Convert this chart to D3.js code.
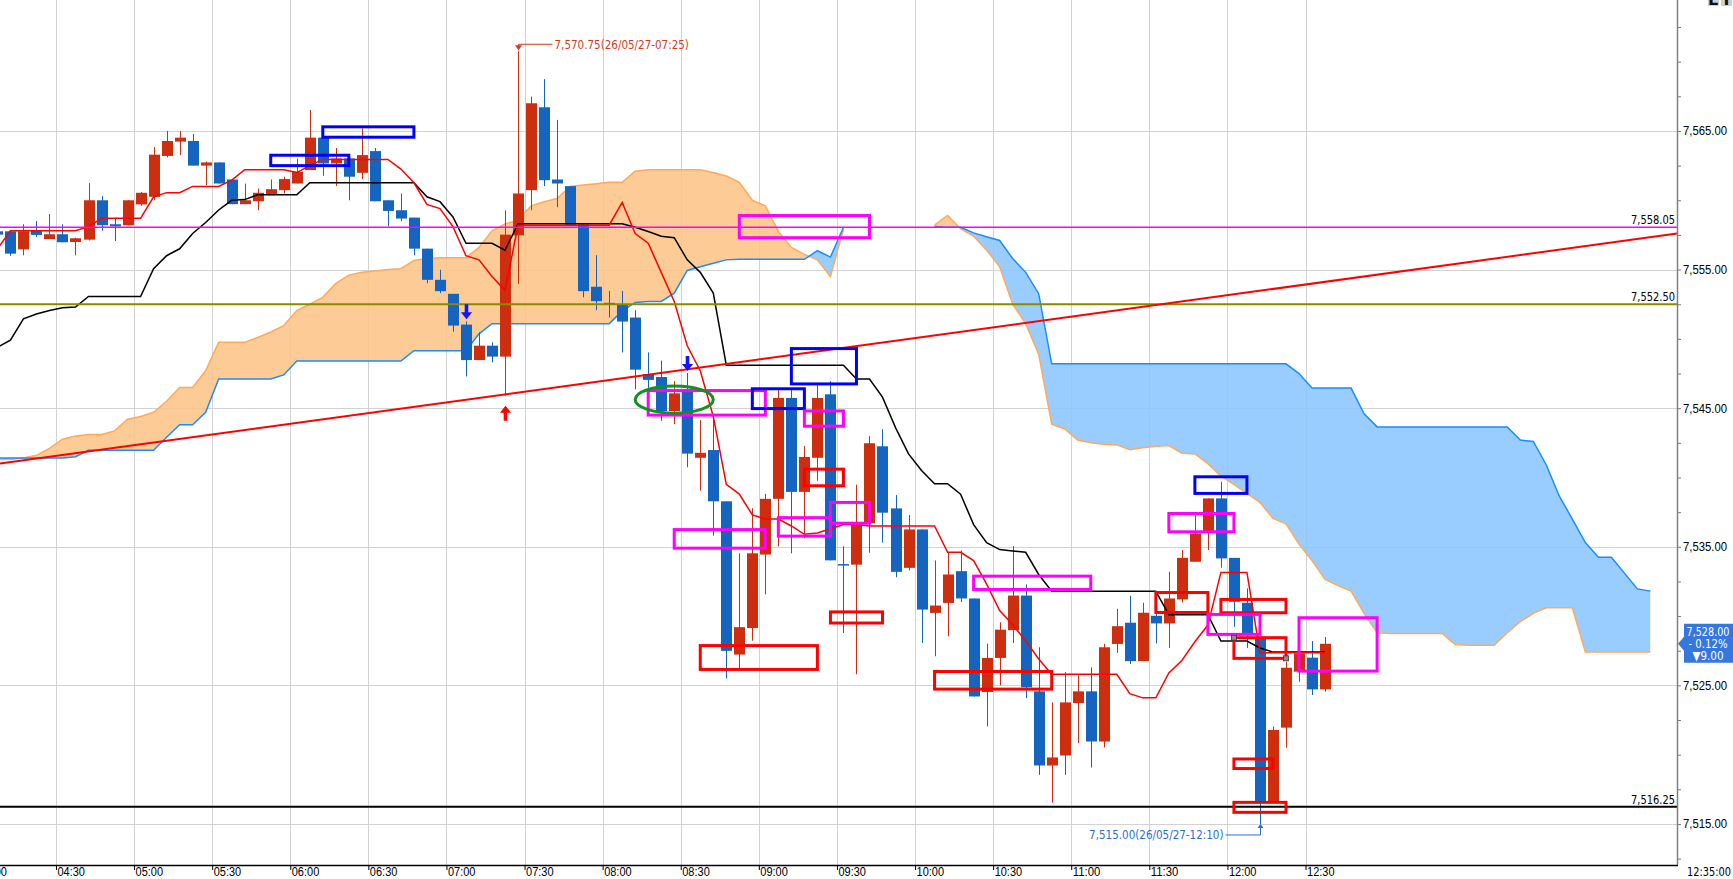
<!DOCTYPE html>
<html>
<head>
<meta charset="utf-8">
<script src="https://cdn.jsdelivr.net/npm/d3@7/dist/d3.min.js"></script>
<style>
  body { margin: 0; background: #fff; }
  svg { display: block; font-family: "DejaVu Sans", "Liberation Sans", sans-serif; }
</style>
</head>
<body>
<div id="chart"></div>
<script>
// 5-minute candles, 2026-05-27, first bar 04:05
const day = "2026-05-27";
const candleStart = "04:05";

const opens = [
  7557.76, 7557.76, 7556.46, 7557.8, 7557.2, 7557.55, 7556.99, 7557.16, 7560.0, 7558.27, 7558.2, 7559.7,
  7560.25, 7563.2, 7564.23, 7564.28, 7562.5, 7562.73, 7561.5, 7559.72, 7559.93, 7560.37, 7560.73, 7561.21,
  7562.18, 7564.52, 7562.66, 7563.02, 7561.98, 7563.55, 7560.0, 7559.28, 7558.75, 7556.51, 7554.26, 7553.25,
  7551.03, 7548.47, 7549.51, 7548.72, 7557.47, 7560.73, 7566.71, 7561.5, 7561.02, 7558.27, 7553.76, 7552.6,
  7552.49, 7551.54, 7547.46, 7547.25, 7544.79, 7546.36, 7541.42, 7541.98, 7538.28, 7527.22, 7529.14, 7534.44,
  7538.46, 7545.74, 7538.96, 7541.42, 7546.0, 7533.75, 7533.71, 7536.7, 7542.25, 7537.77, 7533.48, 7536.25,
  7530.23, 7530.95, 7533.24, 7531.27, 7524.52, 7526.98, 7528.98, 7531.48, 7524.57, 7519.22, 7519.94, 7523.72,
  7524.57, 7520.95, 7527.99, 7529.52, 7526.75, 7530.02, 7529.47, 7531.2, 7533.92, 7536.08, 7538.49, 7534.2,
  7530.96, 7528.39, 7516.6, 7521.95, 7525.99, 7527.0, 7524.71
];
const highs = [
  7557.9, 7557.8, 7558.27, 7558.5, 7559.0, 7558.27, 7557.3, 7561.24, 7560.3, 7558.75, 7560.0, 7560.6,
  7563.84, 7565.0, 7565.0, 7564.78, 7562.8, 7562.73, 7561.5, 7561.2, 7560.85, 7561.5, 7561.7, 7563.0,
  7566.52, 7564.52, 7563.77, 7563.02, 7565.19, 7563.77, 7560.0, 7560.49, 7558.75, 7556.51, 7554.99, 7553.25,
  7551.27, 7550.48, 7549.75, 7559.28, 7570.75, 7567.48, 7568.74, 7565.8, 7561.02, 7558.27, 7556.04, 7553.46,
  7553.46, 7552.07, 7549.02, 7548.43, 7546.95, 7547.54, 7544.14, 7544.59, 7538.28, 7534.53, 7537.78, 7538.82,
  7546.36, 7546.36, 7542.28, 7546.66, 7546.95, 7535.04, 7539.48, 7542.98, 7543.48, 7538.73, 7537.29, 7536.25,
  7534.01, 7534.57, 7534.73, 7531.27, 7528.01, 7529.55, 7535.05, 7532.28, 7527.75, 7523.77, 7525.96, 7525.72,
  7526.3, 7527.99, 7530.52, 7531.47, 7530.96, 7530.8, 7533.2, 7534.76, 7537.28, 7538.49, 7539.69, 7534.2,
  7532.0, 7528.39, 7522.02, 7526.7, 7527.3, 7528.2, 7528.49
];
const lows = [
  7557.4, 7556.0, 7556.03, 7557.35, 7557.2, 7556.97, 7556.03, 7557.1, 7557.8, 7557.06, 7558.2, 7559.6,
  7560.0, 7563.1, 7563.26, 7562.5, 7561.1, 7561.21, 7559.72, 7559.72, 7559.28, 7560.37, 7560.5, 7561.21,
  7562.18, 7561.77, 7561.04, 7560.0, 7561.53, 7559.93, 7558.12, 7558.5, 7556.03, 7554.02, 7553.3, 7550.52,
  7547.29, 7548.47, 7548.31, 7545.9, 7553.97, 7559.28, 7561.02, 7559.5, 7558.2, 7553.0, 7552.07, 7551.54,
  7549.02, 7546.36, 7546.21, 7544.08, 7543.85, 7540.74, 7539.05, 7535.8, 7525.5, 7526.18, 7528.22, 7531.57,
  7535.03, 7534.53, 7535.62, 7539.76, 7534.02, 7528.78, 7525.8, 7534.57, 7535.3, 7532.8, 7533.29, 7528.06,
  7527.1, 7528.54, 7531.02, 7524.2, 7522.04, 7525.0, 7528.06, 7524.08, 7518.54, 7516.54, 7518.54, 7520.83,
  7519.07, 7520.52, 7527.34, 7526.54, 7526.75, 7528.03, 7527.7, 7530.99, 7533.92, 7534.76, 7533.49, 7529.23,
  7527.7, 7515.0, 7516.6, 7520.5, 7525.26, 7524.3, 7524.54
];
const closes = [
  7557.52, 7556.15, 7557.76, 7557.5, 7557.55, 7556.97, 7557.26, 7560.0, 7558.2, 7558.12, 7560.0, 7560.54,
  7563.29, 7564.28, 7564.52, 7562.5, 7562.73, 7561.21, 7559.72, 7560.0, 7560.54, 7560.8, 7561.53, 7562.06,
  7564.52, 7562.66, 7563.02, 7561.7, 7563.26, 7559.93, 7559.23, 7558.68, 7556.51, 7554.26, 7553.44, 7550.96,
  7548.47, 7549.51, 7548.72, 7557.52, 7560.49, 7567.0, 7561.45, 7561.21, 7558.2, 7553.44, 7552.72, 7552.5,
  7551.25, 7547.78, 7547.04, 7544.79, 7546.07, 7541.72, 7541.78, 7538.28, 7527.49, 7529.2, 7534.53, 7538.46,
  7545.74, 7538.96, 7541.48, 7545.74, 7534.02, 7533.7, 7536.6, 7542.47, 7537.46, 7533.19, 7536.25, 7530.47,
  7530.76, 7533.0, 7531.27, 7524.2, 7526.98, 7529.02, 7531.48, 7524.86, 7519.22, 7519.8, 7523.77, 7524.57,
  7520.95, 7527.75, 7529.27, 7526.75, 7530.24, 7529.47, 7531.27, 7534.2, 7535.96, 7538.49, 7534.16, 7531.03,
  7528.75, 7516.6, 7521.78, 7526.27, 7527.3, 7524.71, 7528.0
];

// conversion line (red) and base line (black), one value per candle
const tenkan = [
  7556.5, 7557.8, 7557.8, 7557.8, 7557.8, 7557.8, 7557.8, 7558.1, 7558.7, 7558.7, 7558.7, 7558.7,
  7560.25, 7560.55, 7560.55, 7561.0, 7561.0, 7561.0, 7561.45, 7562.2, 7562.2, 7562.2, 7562.2, 7562.0,
  7562.5, 7562.95, 7562.95, 7562.95, 7562.95, 7562.95, 7562.95, 7562.25, 7561.26, 7559.7, 7559.4, 7558.1,
  7556.0, 7555.7, 7554.5, 7553.5, 7558.2, 7558.2, 7558.2, 7558.2, 7558.2, 7558.2, 7558.2, 7558.2,
  7559.85, 7557.6, 7556.9, 7554.8, 7552.7, 7549.5, 7547.7, 7544.4, 7539.5, 7538.8, 7537.3, 7537.0,
  7537.0, 7536.5, 7535.9, 7536.0, 7536.3, 7536.6, 7536.6, 7536.5, 7536.5, 7536.5, 7536.5, 7536.5,
  7536.5, 7534.6, 7534.6, 7534.0, 7532.3, 7530.4, 7529.4, 7528.2, 7526.9, 7525.8, 7525.8, 7525.8,
  7525.8, 7525.8, 7525.8, 7524.4, 7524.1, 7524.1, 7525.9, 7526.8, 7528.15, 7529.35, 7533.15, 7533.15,
  7533.15, 7527.35, 7527.35, 7527.35, 7527.35, 7527.35, 7527.35
];
const kijun = [
  7549.4, 7549.9, 7551.44, 7551.8, 7552.04, 7552.24, 7552.3, 7553.06, 7553.06, 7553.06, 7553.06, 7553.06,
  7555.06, 7556.0, 7556.5, 7557.6, 7558.4, 7559.3, 7560.0, 7560.05, 7560.4, 7560.4, 7560.4, 7560.4,
  7561.26, 7561.26, 7561.26, 7561.26, 7561.26, 7561.26, 7561.26, 7561.26, 7561.26, 7560.25, 7559.9, 7558.8,
  7556.9, 7556.9, 7556.9, 7556.4, 7558.3, 7558.3, 7558.3, 7558.3, 7558.3, 7558.3, 7558.3, 7558.3,
  7558.3, 7558.05, 7557.75, 7557.4, 7557.3, 7555.7, 7554.8, 7553.3, 7548.1, 7548.1, 7548.1, 7548.1,
  7548.1, 7548.1, 7548.1, 7548.1, 7548.1, 7548.1, 7547.1, 7547.1, 7545.8, 7543.6, 7541.7, 7540.5,
  7539.55, 7539.55, 7538.8, 7536.6, 7535.3, 7534.8, 7534.7, 7534.6, 7533.0, 7531.8, 7531.8, 7531.8,
  7531.8, 7531.8, 7531.8, 7531.8, 7531.8, 7531.8, 7530.1, 7530.1, 7530.1, 7530.1, 7528.2, 7528.2,
  7528.2, 7527.7, 7527.4, 7527.4, 7527.4, 7527.4, 7527.4
];

// leading spans (cloud), 04:05 .. 14:40, gap where nothing is drawn
const cloudStart = "04:05";
const spanA = [
  7541.4, 7541.4, 7541.4, 7541.4, 7541.4, 7541.4, 7541.5, 7541.96, 7541.96, 7541.96, 7541.96, 7541.96,
  7541.96, 7542.9, 7543.8, 7543.8, 7544.7, 7547.1, 7547.1, 7547.1, 7547.1, 7547.1, 7547.4, 7548.4,
  7548.4, 7548.4, 7548.4, 7548.4, 7548.4, 7548.4, 7548.4, 7548.4, 7549.15, 7549.15, 7549.15, 7549.15,
  7549.15, 7550.36, 7551.1, 7551.1, 7551.1, 7551.1, 7551.1, 7551.1, 7551.1, 7551.1, 7551.1, 7551.1,
  7552.0, 7552.63, 7552.7, 7552.7, 7553.3, 7554.94, 7555.2, 7555.45, 7555.7, 7555.74, 7555.74, 7555.74,
  7555.74, 7555.74, 7555.74, 7556.36, 7555.9, 7558.05, null, null, null, null, null, null,
  7558.1, 7558.05, 7558.05, 7557.65, 7557.37, 7557.1, 7555.8, 7554.8, 7553.26, 7548.2, 7548.2, 7548.2,
  7548.2, 7548.2, 7548.2, 7548.2, 7548.2, 7548.2, 7548.2, 7548.2, 7548.2, 7548.2, 7548.2, 7548.2,
  7548.2, 7548.2, 7548.2, 7548.2, 7547.5, 7546.45, 7546.45, 7546.45, 7546.45, 7544.6, 7543.65, 7543.65,
  7543.65, 7543.65, 7543.65, 7543.65, 7543.65, 7543.65, 7543.65, 7543.65, 7543.65, 7542.7, 7542.6, 7540.9,
  7538.65, 7537.0, 7535.3, 7534.25, 7534.25, 7533.1, 7531.96, 7531.8
];
const spanB = [
  7541.3, 7541.3, 7541.4, 7541.6, 7542.1, 7542.76, 7543.0, 7543.1, 7543.1, 7543.36, 7544.2, 7544.4,
  7544.7, 7545.5, 7546.5, 7546.5, 7547.7, 7549.75, 7549.75, 7549.75, 7550.1, 7550.5, 7550.96, 7552.04,
  7552.5, 7553.0, 7554.0, 7554.6, 7554.8, 7554.9, 7555.0, 7555.06, 7555.66, 7555.8, 7555.85, 7555.86,
  7555.86, 7556.6, 7557.8, 7558.3, 7558.56, 7559.6, 7559.9, 7560.13, 7561.0, 7561.1, 7561.2, 7561.3,
  7561.3, 7562.1, 7562.2, 7562.2, 7562.2, 7562.2, 7562.2, 7562.0, 7561.75, 7561.3, 7560.0, 7559.6,
  7557.75, 7556.6, 7556.1, 7555.7, 7554.5, 7557.9, null, null, null, null, null, null,
  7558.2, 7558.9, 7557.95, 7557.4, 7556.4, 7555.2, 7552.5, 7551.1, 7548.9, 7543.84, 7543.5, 7542.7,
  7542.5, 7542.4, 7542.35, 7542.0, 7542.15, 7542.25, 7542.3, 7541.75, 7541.7, 7541.0, 7540.1, 7539.5,
  7538.85, 7538.2, 7537.05, 7536.65, 7535.2, 7534.0, 7532.65, 7532.2, 7531.8, 7530.2, 7528.8, 7528.75,
  7528.75, 7528.75, 7528.75, 7528.75, 7527.95, 7527.9, 7527.9, 7527.9, 7528.8, 7529.6, 7530.2, 7530.6,
  7530.6, 7530.6, 7527.4, 7527.4, 7527.4, 7527.4, 7527.4, 7527.4
];

// horizontal price lines and trend line
const levelPrices = [7558.05, 7552.50, 7516.25];
const levelColors = ["#ff00ff", "#8a8a00", "#000000"];
const levelWidths = [1.5, 2, 2];
const trendTimes = ["04:08:30", "14:52:42"];
const trendPrices = [7541.0, 7557.6];

// highlight boxes drawn on the chart (candle centre to candle centre)
const boxFrom  = ["05:50", "06:10", "08:50", "08:15", "08:55", "09:10", "09:15", "09:15", "08:25", "09:05", "09:25", "09:25",
                  "08:35", "10:20", "10:05", "11:30", "11:45", "11:35", "11:55", "11:50", "12:00", "12:00", "12:00", "12:25"];
const boxTo    = ["06:20", "06:45", "09:40", "09:00", "09:15", "09:35", "09:30", "09:30", "09:00", "09:25", "09:40", "09:45",
                  "09:20", "11:05", "10:50", "11:50", "12:05", "12:00", "12:20", "12:10", "12:20", "12:15", "12:20", "12:55"];
const boxHigh  = [7563.25, 7565.3, 7558.9, 7546.27, 7546.4, 7549.3, 7544.8, 7540.6, 7536.24, 7537.1, 7538.2, 7530.3,
                  7527.87, 7532.88, 7526.0, 7531.7, 7540.05, 7537.4, 7531.2, 7530.12, 7528.44, 7519.69, 7516.56, 7529.88];
const boxLow   = [7562.5, 7564.55, 7557.3, 7544.5, 7544.97, 7546.75, 7543.7, 7539.4, 7534.9, 7535.77, 7536.7, 7529.5,
                  7526.15, 7531.92, 7524.73, 7530.26, 7538.85, 7536.08, 7530.24, 7528.68, 7526.95, 7519.0, 7515.84, 7526.03];
const boxColor = ["#0000ff", "#0000ff", "#ff00ff", "#ff00ff", "#0000ff", "#0000ff", "#ff00ff", "#ff0000", "#ff00ff", "#ff00ff", "#ff00ff", "#ff0000",
                  "#ff0000", "#ff00ff", "#ff0000", "#ff0000", "#0000ff", "#ff00ff", "#ff0000", "#ff00ff", "#ff0000", "#ff0000", "#ff0000", "#ff00ff"];

// green ellipse and signal arrows
const ellipseFrom = "08:10", ellipseTo = "08:40";
const ellipsePrices = [7546.6, 7544.64];
const arrowTimes = ["07:05", "08:30", "07:20"];
const arrowDirs = ["down", "down", "up"];

// axis text
const timeLabels = ["04:00", "04:30", "05:00", "05:30", "06:00", "06:30", "07:00", "07:30", "08:00",
                    "08:30", "09:00", "09:30", "10:00", "10:30", "11:00", "11:30", "12:00", "12:30"];
const priceTicks = [7515, 7525, 7535, 7545, 7555, 7565];
const lastTime = "12:35:00";
const lastChange = -9.00, lastChangePct = -0.12;

const upColor = "#cd2e10";
const downColor = "#1565c0";

// the terminal font is a narrow fixed-pitch face: squeeze each text to ~5.5px per character
function squeeze(sel, per = 5.5) {
    sel.each(function() {
        const n = this.textContent.length;
        if (n) d3.select(this).attr("textLength", n * per).attr("lengthAdjust", "spacingAndGlyphs");
    });
}

function createIchimokuChart() {
    const width = 1733, height = 879;
    const plotW = 1677, plotH = 865;
    const fmt = d3.format(",.2f");
    const parse = d3.timeParse("%Y-%m-%d %H:%M:%S");
    const at = s => parse(`${day} ${s.length === 5 ? s + ":00" : s}`);

    const container = d3.select("#chart");
    container.selectAll("*").remove();

    const svg = container.append("svg")
        .attr("width", width)
        .attr("height", height);

    const x = d3.scaleTime()
        .domain([at("04:08:30"), at("14:52:42")])
        .range([0, plotW]);
    const y = d3.scaleLinear()
        .domain([7512.04, 7574.45])
        .range([plotH, 0]);

    // centre of a 5 minute slot
    const mid = t => x(d3.timeSecond.offset(t, 150));

    const candles = opens.map((o, i) => ({
        t: d3.timeMinute.offset(at(candleStart), 5 * i),
        o, h: highs[i], l: lows[i], c: closes[i],
        tenkan: tenkan[i], kijun: kijun[i]
    }));
    const cloud = spanA.map((a, i) => ({
        t: d3.timeMinute.offset(at(cloudStart), 5 * i),
        a, b: spanB[i]
    }));

    const defs = svg.append("defs");
    defs.append("clipPath").attr("id", "plot-clip")
        .append("rect").attr("width", plotW).attr("height", plotH);

    const g = svg.append("g").attr("clip-path", "url(#plot-clip)");

    // grid
    g.append("g").selectAll("line")
        .data(priceTicks)
        .join("line")
        .attr("x1", 0).attr("x2", plotW)
        .attr("y1", d => Math.round(y(d)) + 0.5)
        .attr("y2", d => Math.round(y(d)) + 0.5)
        .attr("stroke", "#d2d2d2");
    g.append("g").selectAll("line")
        .data(timeLabels.map(at))
        .join("line")
        .attr("x1", d => Math.round(x(d)) + 0.5)
        .attr("x2", d => Math.round(x(d)) + 0.5)
        .attr("y1", 0).attr("y2", plotH)
        .attr("stroke", "#d2d2d2");

    // cloud fill: orange where span B is above span A, blue where below
    const defined = d => d.a != null && d.b != null;
    defs.append("clipPath").attr("id", "above-a")
        .append("path")
        .attr("d", d3.area().defined(defined).x(d => mid(d.t)).y0(0).y1(d => y(d.a))(cloud));
    defs.append("clipPath").attr("id", "below-a")
        .append("path")
        .attr("d", d3.area().defined(defined).x(d => mid(d.t)).y0(plotH).y1(d => y(d.a))(cloud));

    const between = d3.area().defined(defined)
        .x(d => mid(d.t))
        .y0(d => y(d.a))
        .y1(d => y(d.b));

    g.append("path")
        .datum(cloud)
        .attr("d", between)
        .attr("clip-path", "url(#above-a)")
        .attr("fill", "#fdc488")
        .attr("opacity", 0.88);
    g.append("path")
        .datum(cloud)
        .attr("d", between)
        .attr("clip-path", "url(#below-a)")
        .attr("fill", "#8cc6ff")
        .attr("opacity", 0.88);

    g.append("path")
        .datum(cloud)
        .attr("d", d3.line().defined(defined).x(d => mid(d.t)).y(d => y(d.b)))
        .attr("fill", "none")
        .attr("stroke", "#ffa95a")
        .attr("stroke-width", 1.5);
    g.append("path")
        .datum(cloud)
        .attr("d", d3.line().defined(defined).x(d => mid(d.t)).y(d => y(d.a)))
        .attr("fill", "none")
        .attr("stroke", "#1a8cff")
        .attr("stroke-width", 1.5);

    // candles
    const colorOf = d => d.c >= d.o ? upColor : downColor;
    g.append("g").selectAll("line")
        .data(candles)
        .join("line")
        .attr("x1", d => Math.round(mid(d.t)) + 0.5)
        .attr("x2", d => Math.round(mid(d.t)) + 0.5)
        .attr("y1", d => y(d.h))
        .attr("y2", d => y(d.l))
        .attr("stroke", colorOf)
        .attr("stroke-width", 1);
    const bodyW = 11;
    g.append("g").selectAll("rect")
        .data(candles)
        .join("rect")
        .attr("x", d => Math.round(mid(d.t)) + 0.5 - bodyW / 2)
        .attr("width", bodyW)
        .attr("y", d => y(Math.max(d.o, d.c)))
        .attr("height", d => Math.max(1.5, Math.abs(y(d.o) - y(d.c))))
        .attr("fill", colorOf);

    // conversion / base lines
    g.append("path")
        .datum(candles)
        .attr("d", d3.line().x(d => mid(d.t)).y(d => y(d.kijun)))
        .attr("fill", "none")
        .attr("stroke", "#000")
        .attr("stroke-width", 1.5);
    g.append("path")
        .datum(candles)
        .attr("d", d3.line().x(d => mid(d.t)).y(d => y(d.tenkan)))
        .attr("fill", "none")
        .attr("stroke", "#ff0000")
        .attr("stroke-width", 1.5);

    // horizontal levels
    levelPrices.forEach((p, i) => {
        g.append("line")
            .attr("x1", 0).attr("x2", plotW)
            .attr("y1", y(p)).attr("y2", y(p))
            .attr("stroke", levelColors[i])
            .attr("stroke-width", levelWidths[i]);
        g.append("text")
            .attr("x", plotW - 2)
            .attr("y", y(p) - 3)
            .attr("text-anchor", "end")
            .style("font-size", "12.5px")
            .attr("fill", "#000")
            .text(fmt(p))
            .call(squeeze);
    });

    // trend line
    g.append("line")
        .attr("x1", x(at(trendTimes[0]))).attr("y1", y(trendPrices[0]))
        .attr("x2", x(at(trendTimes[1]))).attr("y2", y(trendPrices[1]))
        .attr("stroke", "#ff0000")
        .attr("stroke-width", 2);

    // highlight boxes
    g.append("g").selectAll("rect")
        .data(boxFrom.map((f, i) => ({ f: at(f), t: at(boxTo[i]), hi: boxHigh[i], lo: boxLow[i], col: boxColor[i] })))
        .join("rect")
        .attr("x", d => mid(d.f))
        .attr("y", d => y(d.hi))
        .attr("width", d => mid(d.t) - mid(d.f))
        .attr("height", d => y(d.lo) - y(d.hi))
        .attr("fill", "none")
        .attr("stroke", d => d.col)
        .attr("stroke-width", 3);

    // selection handles on the lower red box
    g.append("g").selectAll("rect")
        .data([[at("12:00"), 7528.44], [at("12:20"), 7526.95]])
        .join("rect")
        .attr("x", d => mid(d[0]) - 2.5)
        .attr("y", d => y(d[1]) - 2.5)
        .attr("width", 5).attr("height", 5)
        .attr("fill", "#8c8c8c")
        .attr("stroke", "#333")
        .attr("stroke-width", 0.8);

    const ex1 = mid(at(ellipseFrom)), ex2 = mid(at(ellipseTo));
    g.append("ellipse")
        .attr("cx", (ex1 + ex2) / 2)
        .attr("cy", (y(ellipsePrices[0]) + y(ellipsePrices[1])) / 2)
        .attr("rx", (ex2 - ex1) / 2)
        .attr("ry", (y(ellipsePrices[1]) - y(ellipsePrices[0])) / 2)
        .attr("fill", "none")
        .attr("stroke", "#12911e")
        .attr("stroke-width", 3);

    // signal arrows
    arrowTimes.forEach((tm, i) => {
        const d = candles.find(c => +c.t === +at(tm));
        const ax = Math.round(mid(d.t)) + 0.5;
        if (arrowDirs[i] === "down") {
            const tip = y(d.h) - 2;
            g.append("path")
                .attr("d", `M${ax - 1.8},${tip - 15}h3.6v8h3.8l-5.6,7l-5.6,-7h3.8z`)
                .attr("fill", "#1414ff");
        } else {
            const tip = y(d.l) + 10;
            g.append("path")
                .attr("d", `M${ax - 1.8},${tip + 15}h3.6v-8h3.8l-5.6,-7l-5.6,7h3.8z`)
                .attr("fill", "#ff0000");
        }
    });

    // high / low annotations
    const hiBar = candles.reduce((a, b) => b.h > a.h ? b : a);
    const loBar = candles.reduce((a, b) => b.l < a.l ? b : a);
    const stamp = d3.timeFormat("%y/%m/%d-%H:%M");

    const hx = Math.round(mid(hiBar.t)) + 0.5, hy = y(hiBar.h);
    const hiCol = "#d03c1e";
    g.append("path")
        .attr("d", `M${hx},${hy - 1}V${hy - 7}H${hx + 34}`)
        .attr("fill", "none").attr("stroke", hiCol);
    g.append("path")
        .attr("d", `M${hx - 3.5},${hy - 6}h7l-3.5,5z`)
        .attr("fill", hiCol);
    g.append("text")
        .attr("x", hx + 36).attr("y", hy - 7)
        .attr("dy", "0.35em")
        .style("font-size", "12.5px")
        .attr("fill", hiCol)
        .text(`${fmt(hiBar.h)}(${stamp(hiBar.t)})`)
        .call(squeeze, 5.6);

    const lx = Math.round(mid(loBar.t)) + 0.5, ly = y(loBar.l);
    const loCol = "#2a6fd0";
    g.append("path")
        .attr("d", `M${lx},${ly + 2}V${ly + 11}H${lx - 35}`)
        .attr("fill", "none").attr("stroke", loCol);
    g.append("path")
        .attr("d", `M${lx - 3},${ly + 4}h6l-3,-4z`)
        .attr("fill", loCol);
    g.append("text")
        .attr("x", lx - 37).attr("y", ly + 11)
        .attr("dy", "0.35em")
        .attr("text-anchor", "end")
        .style("font-size", "12.5px")
        .attr("fill", loCol)
        .text(`${fmt(loBar.l)}(${stamp(loBar.t)})`)
        .call(squeeze, 5.6);

    // right price axis
    const yAxis = d3.axisRight(y)
        .tickValues(d3.range(7512.5, 7575, 2.5))
        .tickSize(4)
        .tickPadding(2)
        .tickFormat(v => priceTicks.includes(v) ? fmt(v) : "");
    const ya = svg.append("g")
        .attr("transform", `translate(${plotW},0)`)
        .call(yAxis);
    ya.select(".domain").remove();
    ya.selectAll(".tick line").attr("stroke", "#7a7a7a");
    ya.selectAll(".tick text")
        .style("font-size", "12.5px")
        .style("font-family", null)
        .attr("fill", "#000")
        .call(squeeze);

    // bottom time axis
    const xAxis = d3.axisBottom(x)
        .tickValues(timeLabels.map(at))
        .tickSize(5)
        .tickFormat(d3.timeFormat("%H:%M"));
    const xa = svg.append("g")
        .attr("transform", `translate(0,${plotH})`)
        .call(xAxis);
    xa.select(".domain").remove();
    xa.selectAll(".tick line").attr("stroke", "#000");
    xa.selectAll(".tick text")
        .attr("text-anchor", "start")
        .attr("x", 1)
        .attr("y", 2)
        .style("font-size", "12.5px")
        .style("font-family", null)
        .attr("fill", "#000")
        .call(squeeze);

    svg.append("line")
        .attr("x1", 0).attr("x2", plotW + 1)
        .attr("y1", plotH + 0.5).attr("y2", plotH + 0.5)
        .attr("stroke", "#000").attr("stroke-width", 1.5);
    svg.append("line")
        .attr("x1", plotW + 0.5).attr("x2", plotW + 0.5)
        .attr("y1", 0).attr("y2", plotH)
        .attr("stroke", "#808080").attr("stroke-width", 1.5);

    svg.append("text")
        .attr("x", width - 2).attr("y", plotH + 2)
        .attr("dy", "0.71em")
        .attr("text-anchor", "end")
        .style("font-size", "12.5px")
        .text(lastTime)
        .call(squeeze);

    // current price tag
    const last = candles[candles.length - 1];
    const ty = y(last.c);
    svg.append("path")
        .attr("d", `M${plotW + 7},${ty - 20}H${width}V${ty + 19}H${plotW + 7}V${ty + 7}L${plotW + 1},${ty}L${plotW + 7},${ty - 7}Z`)
        .attr("fill", "#3577dc");
    const tagLines = [fmt(last.c), `- ${Math.abs(lastChangePct).toFixed(2)}%`, `\u25BC${Math.abs(lastChange).toFixed(2)}`];
    const tagWidths = [43, 39, 31];
    svg.append("g").selectAll("text")
        .data(tagLines)
        .join("text")
        .attr("x", 1708)
        .attr("y", (d, i) => ty - 12 + i * 12)
        .attr("dy", "0.35em")
        .attr("text-anchor", "middle")
        .style("font-size", "12.5px")
        .attr("fill", "#fff")
        .attr("textLength", (d, i) => tagWidths[i])
        .attr("lengthAdjust", "spacingAndGlyphs")
        .text(d => d);

    // clipped toolbar letters at the top right corner
    const tb = svg.append("g");
    [["E", 1708], ["T", 1721]].forEach(([ch, bx]) => {
        tb.append("rect").attr("x", bx).attr("y", -10).attr("width", 11).attr("height", 16).attr("fill", "#cfcfcf");
        tb.append("text").attr("x", bx + 5.5).attr("y", 5).attr("text-anchor", "middle")
            .style("font-size", "16px").style("font-weight", "bold").attr("fill", "#111").text(ch);
    });
}

createIchimokuChart();
</script>
</body>
</html>
